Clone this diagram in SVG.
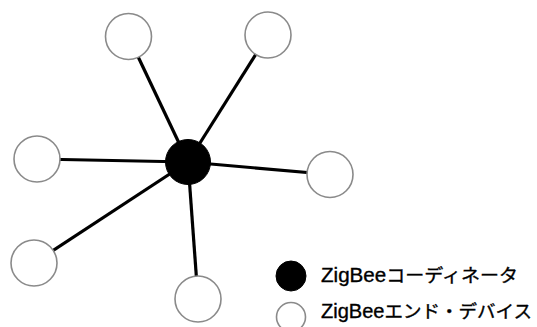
<svg xmlns="http://www.w3.org/2000/svg" width="537" height="327" viewBox="0 0 537 327">
<style>
.edge{stroke:#000;stroke-width:3.2;fill:none}
.end{fill:#fff;stroke:#8a8a8a;stroke-width:1.6}
.coord{fill:#000;stroke:#000;stroke-width:1}
.lbl{font-family:"Liberation Sans","Noto Sans CJK JP",sans-serif;font-size:19.5px;fill:#000;stroke:#000;stroke-width:0.35}
.jp{font-family:"Noto Sans CJK JP",sans-serif;font-size:18px}
</style>
<rect width="537" height="327" fill="#fff"/>
<g id="connectors">
<line class="edge" x1="188" y1="162" x2="128.5" y2="36.5"/>
<line class="edge" x1="188" y1="162" x2="268" y2="35"/>
<line class="edge" x1="188" y1="162" x2="37" y2="159"/>
<line class="edge" x1="188" y1="162" x2="330" y2="174.5"/>
<line class="edge" x1="188" y1="162" x2="34" y2="263"/>
<line class="edge" x1="188" y1="162" x2="198" y2="299"/>
</g>
<g id="node-top-left"><circle class="end" cx="128.5" cy="36.5" r="23"/></g>
<g id="node-top-right"><circle class="end" cx="268" cy="35" r="23"/></g>
<g id="node-left"><circle class="end" cx="37" cy="159" r="23"/></g>
<g id="node-right"><circle class="end" cx="330" cy="174.5" r="23"/></g>
<g id="node-bottom-left"><circle class="end" cx="34" cy="263" r="23"/></g>
<g id="node-bottom"><circle class="end" cx="198" cy="299" r="23"/></g>
<g id="coordinator"><circle class="coord" cx="188" cy="162" r="22.5"/></g>
<g id="legend">
<circle class="coord" cx="291" cy="276" r="15"/>
<text class="lbl" x="321" y="282" textLength="197" lengthAdjust="spacingAndGlyphs">ZigBee<tspan class="jp">コーディネータ</tspan></text>
<circle class="end" cx="291" cy="317" r="14.5"/>
<text class="lbl" x="321" y="318" textLength="211" lengthAdjust="spacingAndGlyphs">ZigBee<tspan class="jp">エンド・デバイス</tspan></text>
</g>
</svg>
